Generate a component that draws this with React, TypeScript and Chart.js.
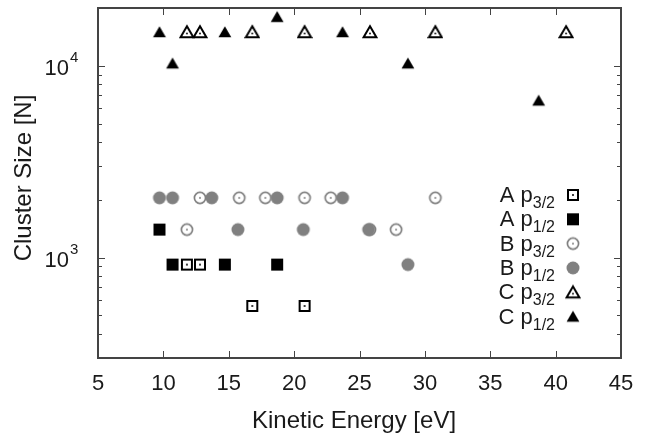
import React, { useEffect, useRef } from "react";
import { Chart, registerables } from "chart.js";

Chart.register(...registerables);

// ---- data ----
const seriesNames = ["A", "A", "B", "B", "C", "C"];
const seriesSubs = ["3/2", "1/2", "3/2", "1/2", "3/2", "1/2"];

const aP32X = [16.8, 20.8, 11.8, 12.8];
const aP32Y = [560, 560, 920, 920];

const aP12X = [9.7, 10.7, 14.7, 18.7];
const aP12Y = [1400, 920, 920, 920];

const bP32X = [12.8, 15.8, 17.8, 20.8, 22.8, 30.8, 11.8, 25.8, 27.8];
const bP32Y = [2050, 2050, 2050, 2050, 2050, 2050, 1400, 1400, 1400];

const bP12X = [9.7, 10.7, 13.7, 18.7, 23.7, 15.7, 20.7, 25.7, 28.7];
const bP12Y = [2050, 2050, 2050, 2050, 2050, 1400, 1400, 1400, 920];

const cP32X = [11.8, 12.8, 16.8, 20.8, 25.8, 30.8, 40.8];
const cP32Y = [15000, 15000, 15000, 15000, 15000, 15000, 15000];

const cP12X = [9.7, 10.7, 14.7, 18.7, 23.7, 28.7, 38.7];
const cP12Y = [15000, 10300, 15000, 18000, 15000, 10300, 6600];

const xTicks = [5, 10, 15, 20, 25, 30, 35, 40, 45];
const yMajorTicks = [1000, 10000];
const yMajorLabels = ["10", "10"];
const yMajorExps = ["3", "4"];
const yMinorTicks = [300, 400, 500, 600, 700, 800, 900, 2000, 3000, 4000, 5000, 6000, 7000, 8000, 9000];

const xTitle = "Kinetic Energy [eV]";
const yTitle = "Cluster Size [N]";

const FONT = "'Liberation Sans', Arial, Helvetica, sans-serif";
const TEXT = "#1a1a1a";
const AXIS = "#444444";
const GRAY = "#808080";

type Kind = "sqOpen" | "sqFill" | "circOpen" | "circFill" | "triOpen" | "triFill";
const kinds: Kind[] = ["sqOpen", "sqFill", "circOpen", "circFill", "triOpen", "triFill"];

function makeMarker(kind: Kind): HTMLCanvasElement {
  const c = document.createElement("canvas");
  c.width = 16;
  c.height = 16;
  const g = c.getContext("2d")!;
  g.lineJoin = "miter";
  const dot = (col: string) => {
    g.fillStyle = col;
    g.beginPath();
    g.arc(8, 8, 1, 0, Math.PI * 2);
    g.fill();
  };
  const tri = () => {
    g.beginPath();
    g.moveTo(8, 2.2);
    g.lineTo(1.6, 13.2);
    g.lineTo(14.4, 13.2);
    g.closePath();
  };
  switch (kind) {
    case "sqOpen":
      g.strokeStyle = "#000";
      g.lineWidth = 2;
      g.strokeRect(3, 3, 10, 10);
      dot("#000");
      break;
    case "sqFill":
      g.fillStyle = "#000";
      g.fillRect(2, 2, 12, 12);
      break;
    case "circOpen":
      g.strokeStyle = GRAY;
      g.lineWidth = 1.7;
      g.beginPath();
      g.arc(8, 8, 5.6, 0, Math.PI * 2);
      g.stroke();
      dot(GRAY);
      break;
    case "circFill":
      g.fillStyle = GRAY;
      g.beginPath();
      g.arc(8, 8, 6.5, 0, Math.PI * 2);
      g.fill();
      break;
    case "triOpen":
      g.strokeStyle = "#000";
      g.lineWidth = 2;
      tri();
      g.stroke();
      g.fillStyle = "#000";
      g.beginPath();
      g.arc(8, 9.5, 0.9, 0, Math.PI * 2);
      g.fill();
      break;
    case "triFill":
      g.fillStyle = "#000";
      tri();
      g.fill();
      break;
  }
  return c;
}

export default function App() {
  const ref = useRef<HTMLCanvasElement | null>(null);

  useEffect(() => {
    document.body.style.margin = "0";
    const markers = kinds.map(makeMarker);
    const xs = [aP32X, aP12X, bP32X, bP12X, cP32X, cP12X];
    const ys = [aP32Y, aP12Y, bP32Y, bP12Y, cP32Y, cP12Y];

    const datasets = xs.map((xArr, i) => ({
      label: seriesNames[i] + " p" + seriesSubs[i],
      data: xArr.map((x, j) => ({ x, y: ys[i][j] })),
      pointStyle: markers[i],
      pointRadius: 7,
      showLine: false,
      order: 6 - i,
    }));

    const deco = {
      id: "deco",
      afterDraw(chart: any) {
        const { ctx, chartArea: a, scales } = chart;
        const sx = scales.x;
        const sy = scales.y;
        ctx.save();
        // tick marks (inward, mirrored)
        ctx.strokeStyle = AXIS;
        ctx.lineWidth = 1;
        const seg = (x1: number, y1: number, x2: number, y2: number) => {
          ctx.beginPath();
          ctx.moveTo(x1, y1);
          ctx.lineTo(x2, y2);
          ctx.stroke();
        };
        for (const v of xTicks) {
          const px = Math.round(sx.getPixelForValue(v)) + 0.5;
          seg(px, a.bottom, px, a.bottom - 7);
          seg(px, a.top, px, a.top + 7);
        }
        for (const v of yMajorTicks) {
          const py = Math.round(sy.getPixelForValue(v)) + 0.5;
          seg(a.left, py, a.left + 7, py);
          seg(a.right, py, a.right - 7, py);
        }
        for (const v of yMinorTicks) {
          const py = Math.round(sy.getPixelForValue(v)) + 0.5;
          seg(a.left, py, a.left + 4, py);
          seg(a.right, py, a.right - 4, py);
        }
        // frame
        ctx.lineWidth = 2;
        ctx.strokeRect(a.left, a.top, a.right - a.left, a.bottom - a.top);

        // y tick labels with superscripts
        ctx.fillStyle = TEXT;
        yMajorTicks.forEach((v, i) => {
          const py = sy.getPixelForValue(v);
          ctx.font = `22px ${FONT}`;
          ctx.textAlign = "right";
          ctx.textBaseline = "alphabetic";
          ctx.fillText(yMajorLabels[i], 69, py + 9);
          ctx.font = `15px ${FONT}`;
          ctx.textAlign = "left";
          ctx.fillText(yMajorExps[i], 70, py - 4);
        });

        // axis titles
        ctx.font = `24px ${FONT}`;
        ctx.textAlign = "center";
        ctx.textBaseline = "alphabetic";
        ctx.fillText(xTitle, 354, 428);
        ctx.save();
        ctx.translate(31, 178);
        ctx.rotate(-Math.PI / 2);
        ctx.fillText(yTitle, 0, 0);
        ctx.restore();

        // legend
        const rowY0 = 195;
        const rowDY = 24.3;
        const textRight = 555;
        const markX = 573;
        for (let i = 0; i < 6; i++) {
          const ry = rowY0 + rowDY * i;
          ctx.font = `16px ${FONT}`;
          const subW = ctx.measureText(seriesSubs[i]).width;
          ctx.font = `22px ${FONT}`;
          const main = seriesNames[i] + " p";
          const mainW = ctx.measureText(main).width;
          const x0 = textRight - subW - mainW;
          ctx.textAlign = "left";
          ctx.fillText(main, x0, ry + 7);
          ctx.font = `16px ${FONT}`;
          ctx.fillText(seriesSubs[i], x0 + mainW, ry + 13);
          const m = markers[i];
          ctx.drawImage(m, markX - m.width / 2, ry - m.height / 2);
        }
        ctx.restore();
      },
    };

    const chart = new Chart(ref.current!, {
      type: "scatter",
      data: { datasets },
      options: {
        animation: false,
        responsive: true,
        maintainAspectRatio: false,
        layout: { padding: { top: 7, right: 34, left: 0, bottom: 0 } },
        plugins: { legend: { display: false }, tooltip: { enabled: false } },
        scales: {
          x: {
            type: "linear",
            min: 5,
            max: 45,
            grid: { display: false, drawTicks: false },
            border: { display: false },
            ticks: {
              stepSize: 5,
              padding: 13,
              color: TEXT,
              font: { family: FONT, size: 22 },
            },
            afterFit: (s: any) => {
              s.height = 79;
            },
          },
          y: {
            type: "logarithmic",
            min: 300,
            max: 20000,
            grid: { display: false, drawTicks: false },
            border: { display: false },
            ticks: { display: false },
            afterFit: (s: any) => {
              s.width = 98;
            },
          },
        },
      },
      plugins: [deco],
    });
    return () => chart.destroy();
  }, []);

  return (
    <div style={{ position: "fixed", left: 0, top: 0, width: 655, height: 437, background: "#fff" }}>
      <canvas ref={ref} />
    </div>
  );
}
